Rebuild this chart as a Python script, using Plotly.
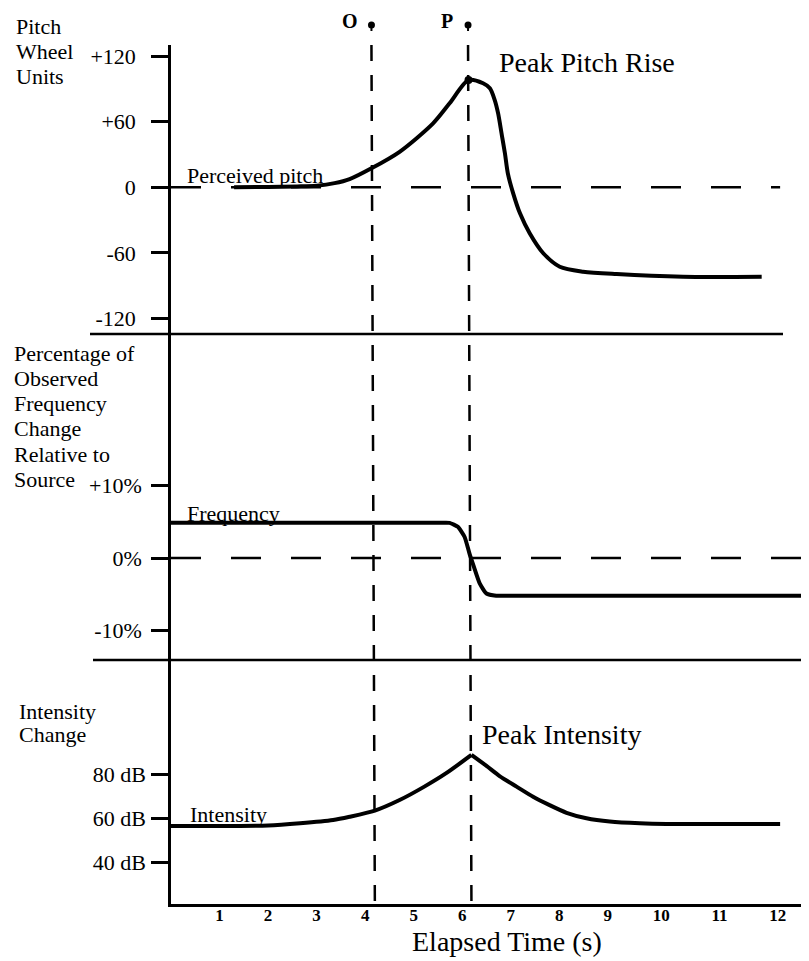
import plotly.graph_objects as go

# ---------------- data ----------------
pitch_t = [1.3, 2.0, 2.6, 3.0, 3.37, 3.68, 4.13, 4.71, 5.40, 5.74, 6.13, 6.43, 6.57,
           6.67, 6.74, 6.81, 6.88, 6.94, 7.05, 7.19, 7.39, 7.67, 8.01, 8.49, 9.18,
           10.55, 12.17]
pitch_v = [0, 0.3, 0.8, 1.5, 3.8, 7.5, 17.4, 32.5, 58.5, 76.8, 98, 95.1, 90.5,
           79.8, 67.6, 49.4, 31.1, 12.8, -5.5, -23.8, -42, -60.3, -72.6, -77.1, -79.3,
           -81.7, -81.7]

freq_t = [0, 3.0, 5.5, 5.74, 5.91, 6.05, 6.15, 6.24, 6.36, 6.5, 6.7, 7.2, 10.0, 13.15]
freq_v = [4.85, 4.85, 4.85, 4.85, 4.3, 2.9, 0.6, -1.2, -3.5, -4.9, -5.2, -5.2, -5.2, -5.2]

int_t = [0, 2.0, 2.66, 3.34, 3.68, 4.20, 4.71, 5.22, 5.67, 6.19,
         6.5, 6.77, 7.12, 7.46, 7.8, 8.15, 8.56, 9.04, 9.66, 10.21, 12.55]
int_v = [56.5, 56.7, 57.7, 59.2, 60.7, 63.5, 68.3, 74.4, 80.5, 88.8,
         83.8, 79.2, 74.4, 69.8, 66.0, 62.5, 60.0, 58.5, 57.7, 57.4, 57.4]

x_tick_vals = [1, 2, 3, 4, 5, 6, 7, 8, 9, 10.1, 11.3, 12.5]
x_tick_text = ["1", "2", "3", "4", "5", "6", "7", "8", "9", "10", "11", "12"]

pitch_ticks = [120, 60, 0, -60, -120]
pitch_tick_text = ["+120", "+60", "0", "-60", "-120"]
freq_ticks = [10, 0, -10]
freq_tick_text = ["+10%", "0%", "-10%"]
int_ticks = [80, 60, 40]
int_tick_text = ["80 dB", "60 dB", "40 dB"]

event_labels = ["O", "P"]
event_t_top = [4.13, 6.12]
event_t_bottom = [4.20, 6.19]
event_label_t = [3.68, 5.68]

pitch_title = ["Pitch", "Wheel", "Units"]
freq_title = ["Percentage of", "Observed", "Frequency", "Change", "Relative to", "Source"]
int_title = ["Intensity", "Change"]

# ---------------- figure ----------------
SERIF = "Liberation Serif, Times New Roman, serif"
BODY = 8                      # default page margin of the html body
W, H = 809 - BODY, 961 - BODY
PLOT_L, PLOT_R, PLOT_T, PLOT_B = 171, 809, 45, 904   # plot area in window pixels
L, T = PLOT_L - BODY, PLOT_T - BODY
R = W - (PLOT_R - BODY)
B = H - (PLOT_B - BODY)
PH = PLOT_B - PLOT_T
PW = PLOT_R - PLOT_L


def py(p):  # window pixel y -> paper y
    return (PLOT_B - p) / PH


def px(p):  # window pixel x -> paper x
    return (p - PLOT_L) / PW


fig = go.Figure()
line = dict(color="black", width=4)
fig.add_trace(go.Scatter(x=pitch_t, y=pitch_v, mode="lines",
                         line=dict(line, shape="spline", smoothing=0.8),
                         xaxis="x", yaxis="y", showlegend=False, hoverinfo="skip"))
ipk = pitch_v.index(max(pitch_v))
fig.add_trace(go.Scatter(x=[pitch_t[ipk]], y=[pitch_v[ipk]], mode="markers",
                         marker=dict(color="black", size=8), xaxis="x", yaxis="y", showlegend=False))
fig.add_trace(go.Scatter(x=freq_t, y=freq_v, mode="lines",
                         line=dict(line, shape="spline", smoothing=0.5),
                         xaxis="x", yaxis="y2", showlegend=False, hoverinfo="skip"))
ik = int_v.index(max(int_v))
fig.add_trace(go.Scatter(x=int_t[:ik + 1], y=int_v[:ik + 1], mode="lines",
                         line=dict(line, shape="spline", smoothing=0.7),
                         xaxis="x", yaxis="y3", showlegend=False, hoverinfo="skip"))
fig.add_trace(go.Scatter(x=int_t[ik:], y=int_v[ik:], mode="lines",
                         line=dict(line, shape="spline", smoothing=0.7),
                         xaxis="x", yaxis="y3", showlegend=False, hoverinfo="skip"))

shapes = []
# event dashed vertical lines with pins on top
for t0, t1 in zip(event_t_top, event_t_bottom):
    shapes.append(dict(type="line", xref="x", yref="paper", x0=t0, x1=t1, y0=1.0, y1=0.0,
                       line=dict(color="black", width=2.5, dash="16px,14px")))
    shapes.append(dict(type="line", xref="x", yref="paper", x0=t0, x1=t0, y0=py(25), y1=py(31),
                       line=dict(color="black", width=2)))
    shapes.append(dict(type="circle", xref="x", yref="paper", xsizemode="pixel", ysizemode="pixel",
                       xanchor=t0, yanchor=py(25), x0=-3.5, x1=3.5, y0=-3.5, y1=3.5,
                       fillcolor="black", line=dict(color="black", width=0)))
# dashed zero lines
shapes.append(dict(type="line", xref="x", yref="y", x0=0, x1=12.55, y0=0, y1=0,
                   line=dict(color="black", width=2.5, dash="30px,30px")))
shapes.append(dict(type="line", xref="x", yref="y2", x0=0, x1=12.98, y0=0, y1=0,
                   line=dict(color="black", width=2.5, dash="30px,30px")))
# panel separators
shapes.append(dict(type="line", xref="paper", yref="paper", x0=px(90), x1=px(783), y0=py(334), y1=py(334),
                   line=dict(color="black", width=2.5)))
shapes.append(dict(type="line", xref="paper", yref="paper", x0=px(93), x1=1.0, y0=py(660), y1=py(660),
                   line=dict(color="black", width=2.5)))

ann = []
f22 = dict(family=SERIF, size=22, color="black")
f28 = dict(family=SERIF, size=28, color="black")
for i, s in enumerate(pitch_title):
    ann.append(dict(text=s, xref="paper", yref="paper", x=px(14), y=py(27 + 24.5 * i),
                    xanchor="left", yanchor="middle", showarrow=False, font=f22))
for i, s in enumerate(freq_title):
    ann.append(dict(text=s, xref="paper", yref="paper", x=px(12), y=py(353 + 25.3 * i),
                    xanchor="left", yanchor="middle", showarrow=False, font=f22))
for i, s in enumerate(int_title):
    ann.append(dict(text=s, xref="paper", yref="paper", x=px(17), y=py(711 + 23.5 * i),
                    xanchor="left", yanchor="middle", showarrow=False, font=f22))
for lab, t in zip(event_labels, event_label_t):
    ann.append(dict(text="<b>%s</b>" % lab, xref="x", yref="paper", x=t, y=py(21),
                    xanchor="center", yanchor="middle", showarrow=False,
                    font=dict(family=SERIF, size=20, color="black")))
ann.append(dict(text="Peak Pitch Rise", xref="x", yref="y", x=6.71, y=114.5, xanchor="left",
                yanchor="middle", showarrow=False, font=f28))
ann.append(dict(text="Peak Intensity", xref="x", yref="y3", x=6.36, y=97.9, xanchor="left",
                yanchor="middle", showarrow=False, font=f28))
ann.append(dict(text="Perceived pitch", xref="x", yref="y", x=0.28, y=11.2, xanchor="left",
                yanchor="middle", showarrow=False, font=f22))
ann.append(dict(text="Frequency", xref="x", yref="y2", x=0.28, y=6.2, xanchor="left",
                yanchor="middle", showarrow=False, font=f22))
ann.append(dict(text="Intensity", xref="x", yref="y3", x=0.36, y=61.7, xanchor="left",
                yanchor="middle", showarrow=False, font=f22))
ann.append(dict(text="Elapsed Time (s)", xref="paper", yref="paper", x=px(507), y=py(942),
                xanchor="center", yanchor="middle", showarrow=False, font=f28))

yax = dict(showline=True, linecolor="black", linewidth=2.5, ticks="outside", ticklen=17,
           tickwidth=2.5, tickcolor="black", showgrid=False, zeroline=False,
           tickfont=f22, fixedrange=True, automargin=False)

fig.update_layout(
    width=W, height=H,
    margin=dict(l=L, r=R, t=T, b=B, autoexpand=False),
    paper_bgcolor="white", plot_bgcolor="white",
    font=dict(family=SERIF, color="black"),
    xaxis=dict(range=[0, 13.145], anchor="y3", showline=True, linecolor="black", linewidth=2.5,
               ticks="", tickvals=x_tick_vals, ticktext=x_tick_text, showgrid=False,
               zeroline=False, ticklabelstandoff=-6, automargin=False,
               tickfont=dict(family=SERIF, size=17, color="black", weight="bold")),
    yaxis=dict(yax, domain=[py(334), 1.0], range=[-134.1, 130.1], tickvals=pitch_ticks,
               ticktext=pitch_tick_text, ticklabelstandoff=11),
    yaxis2=dict(yax, domain=[py(660), py(334)], range=[-14.07, 30.9], tickvals=freq_ticks,
                ticktext=freq_tick_text, ticklabelstandoff=5),
    yaxis3=dict(yax, domain=[0, py(660)], range=[21.05, 131.95], tickvals=int_ticks,
                ticktext=int_tick_text, ticklabelstandoff=1),
    shapes=shapes, annotations=ann, showlegend=False,
)

fig.write_html("out.html")
